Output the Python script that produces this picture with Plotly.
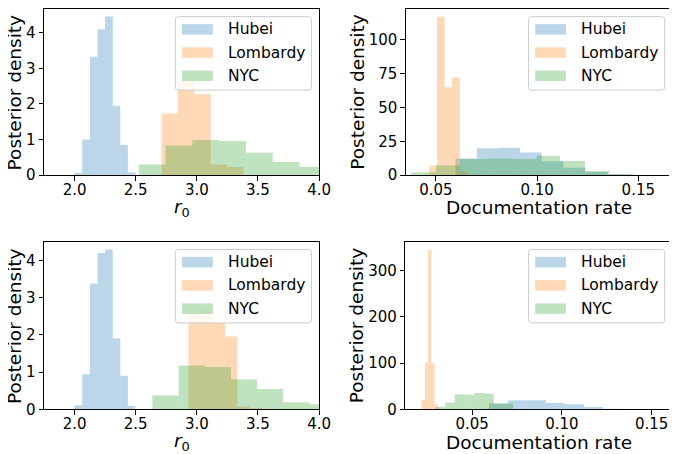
import plotly.graph_objects as go

W, H = 677, 454

regions = ["Hubei", "Lombardy", "NYC"]
colors = ["#1f77b4", "#ff7f0e", "#2ca02c"]

# top-left: r0, first fit
r0_a_hubei_edges = [2.000, 2.062, 2.125, 2.187, 2.249, 2.312, 2.374, 2.436, 2.498]
r0_a_hubei_dens = [0.07, 1.00, 3.33, 4.10, 4.46, 1.95, 0.85, 0.08]
r0_a_lomb_edges = [2.712, 2.846, 2.980, 3.114, 3.248, 3.382]
r0_a_lomb_dens = [1.73, 2.65, 2.27, 0.30, 0.23]
r0_a_nyc_edges = [2.525, 2.744, 2.963, 3.183, 3.402, 3.621, 3.841, 4.060]
r0_a_nyc_dens = [0.30, 0.83, 0.99, 0.96, 0.63, 0.37, 0.23]

# top-right: documentation rate, first fit
doc_a_hubei_edges = [0.0596, 0.0702, 0.0808, 0.0916, 0.1022, 0.1129, 0.1237, 0.1348, 0.1455]
doc_a_hubei_dens = [12.2, 19.8, 20.3, 16.8, 10.3, 5.5, 2.3, 0.5]
doc_a_lomb_edges = [0.0467, 0.0505, 0.0543, 0.0580, 0.0618, 0.0656]
doc_a_lomb_dens = [7.2, 117.0, 65.0, 72.0, 3.0]
doc_a_nyc_edges = [0.0377, 0.0500, 0.0619, 0.0748, 0.0873, 0.0997, 0.1113, 0.1237, 0.1356, 0.1480]
doc_a_nyc_dens = [2.1, 7.2, 11.9, 12.3, 11.9, 14.3, 10.4, 3.0, 0.8]

# bottom-left: r0, second fit
r0_b_hubei_edges = [2.000, 2.062, 2.125, 2.187, 2.249, 2.312, 2.374, 2.436, 2.498]
r0_b_hubei_dens = [0.11, 0.94, 3.38, 4.20, 4.29, 1.91, 0.90, 0.09]
r0_b_lomb_edges = [2.931, 3.031, 3.132, 3.232, 3.332, 3.432, 3.533]
r0_b_lomb_dens = [2.60, 2.65, 2.32, 1.96, 0.07, 0.04]
r0_b_nyc_edges = [2.636, 2.851, 3.065, 3.279, 3.493, 3.707, 3.921, 4.135]
r0_b_nyc_dens = [0.37, 1.18, 1.14, 0.81, 0.55, 0.19, 0.14]

# bottom-right: documentation rate, second fit
doc_b_hubei_edges = [0.0594, 0.0699, 0.0805, 0.0911, 0.1016, 0.1122, 0.1228, 0.1333]
doc_b_hubei_dens = [12.5, 19.8, 19.8, 13.8, 11.3, 5.3, 1.4]
doc_b_lomb_edges = [0.02183, 0.02373, 0.02551, 0.02730, 0.02909, 0.03088]
doc_b_lomb_dens = [20.0, 101.0, 344.0, 99.0, 11.0]
doc_b_nyc_edges = [0.0297, 0.0350, 0.0404, 0.0458, 0.0512, 0.0567, 0.0621, 0.0675, 0.0729]
doc_b_nyc_dens = [5.6, 14.8, 32.5, 31.8, 35.3, 33.9, 12.7, 12.7]

r0_ticks = [2.0, 2.5, 3.0, 3.5, 4.0]
doc_ticks = [0.05, 0.10, 0.15]

FONT = "DejaVu Sans"


def rgba(hex_color, a):
    h = hex_color.lstrip("#")
    return "rgba(%d,%d,%d,%g)" % (int(h[0:2], 16), int(h[2:4], 16), int(h[4:6], 16), a)


def px_x(v):
    return v / W


def px_y(v):
    return 1 - v / H


# panel boxes in pixels: left, top, right, bottom
panels = [
    dict(box=(36.7, 1.0, 316.7, 170.5), xr=[1.75, 4.0], yr=[0, 4.67], xt=r0_ticks, xf=".1f",
         yt=[0, 1, 2, 3, 4], xlabel="<i>r</i><sub>0</sub>",
         series=[(r0_a_hubei_edges, r0_a_hubei_dens), (r0_a_lomb_edges, r0_a_lomb_dens),
                 (r0_a_nyc_edges, r0_a_nyc_dens)]),
    dict(box=(405.0, 1.0, 676.3, 170.5), xr=[0.0351, 0.1668], yr=[0, 122.8], xt=doc_ticks, xf=".2f",
         yt=[0, 25, 50, 75, 100], xlabel="Documentation rate",
         series=[(doc_a_hubei_edges, doc_a_hubei_dens), (doc_a_lomb_edges, doc_a_lomb_dens),
                 (doc_a_nyc_edges, doc_a_nyc_dens)]),
    dict(box=(36.7, 238.5, 316.7, 409.5), xr=[1.75, 4.0], yr=[0, 4.5], xt=r0_ticks, xf=".1f",
         yt=[0, 1, 2, 3, 4], xlabel="<i>r</i><sub>0</sub>",
         series=[(r0_b_hubei_edges, r0_b_hubei_dens), (r0_b_lomb_edges, r0_b_lomb_dens),
                 (r0_b_nyc_edges, r0_b_nyc_dens)]),
    dict(box=(404.5, 238.5, 676.3, 409.5), xr=[0.0128, 0.1615], yr=[0, 362], xt=doc_ticks, xf=".2f",
         yt=[0, 100, 200, 300], xlabel="Documentation rate",
         series=[(doc_b_hubei_edges, doc_b_hubei_dens), (doc_b_lomb_edges, doc_b_lomb_dens),
                 (doc_b_nyc_edges, doc_b_nyc_dens)]),
]

fig = go.Figure()
layout = {}
shapes = []
annotations = []
title_font = dict(family=FONT, size=18.5, color="black")

for k, p in enumerate(panels):
    n = "" if k == 0 else str(k + 1)
    L, T, R, B = p["box"]
    axis_common = dict(showline=True, mirror=True, linecolor="black", linewidth=1,
                       ticks="outside", ticklen=4.5, tickwidth=1, tickcolor="black",
                       showgrid=False, zeroline=False,
                       tickfont=dict(family=FONT, size=15, color="black"))
    layout["xaxis" + n] = dict(axis_common, domain=[px_x(L), px_x(R)], range=p["xr"],
                               anchor="y" + n, tickvals=p["xt"], tickformat=p["xf"],
                               ticklabelstandoff=-4)
    layout["yaxis" + n] = dict(axis_common, domain=[px_y(B), px_y(T)], range=p["yr"],
                               anchor="x" + n, tickvals=p["yt"])

    for (edges, dens), name, col in zip(p["series"], regions, colors):
        fig.add_trace(go.Bar(
            x=edges[:-1], y=dens, width=[b - a for a, b in zip(edges[:-1], edges[1:])],
            offset=0, name=name, showlegend=False,
            marker=dict(color=rgba(col, 0.3), line=dict(width=0)),
            xaxis="x" + n, yaxis="y" + n))

    # axis titles
    ylab_x = 6.5 if L < 100 else 355
    annotations.append(dict(text="Posterior density", xref="paper", yref="paper",
                            x=px_x(ylab_x), y=px_y((T + B) / 2), textangle=-90,
                            showarrow=False, xanchor="center", yanchor="middle",
                            font=title_font))
    annotations.append(dict(text=p["xlabel"], xref="paper", yref="paper",
                            x=px_x((L + R) / 2), y=px_y(B + 33.5), showarrow=False,
                            xanchor="center", yanchor="middle", font=title_font))

    # legend box, drawn like the matplotlib one
    bw, bh, pad, rad = 138.5, 75.0, 7.8, 3.0
    bR, bT = R - pad, T + pad
    bL, bB = bR - bw, bT + bh

    def pt(x, y):
        return "%.5f,%.5f" % (px_x(x), px_y(y))

    path = ("M" + pt(bL + rad, bT) + " L" + pt(bR - rad, bT) + " Q" + pt(bR, bT) + " " + pt(bR, bT + rad)
            + " L" + pt(bR, bB - rad) + " Q" + pt(bR, bB) + " " + pt(bR - rad, bB)
            + " L" + pt(bL + rad, bB) + " Q" + pt(bL, bB) + " " + pt(bL, bB - rad)
            + " L" + pt(bL, bT + rad) + " Q" + pt(bL, bT) + " " + pt(bL + rad, bT) + " Z")
    shapes.append(dict(type="path", path=path, xref="paper", yref="paper",
                       fillcolor="rgba(255,255,255,0.8)", line=dict(color="#cccccc", width=1)))
    for i, (name, col) in enumerate(zip(regions, colors)):
        cy = bT + 13.0 + 23.7 * i
        shapes.append(dict(type="rect", xref="paper", yref="paper",
                           x0=px_x(bL + 6.7), x1=px_x(bL + 38.1),
                           y0=px_y(cy + 5.35), y1=px_y(cy - 5.35),
                           fillcolor=rgba(col, 0.3), line=dict(width=0)))
        annotations.append(dict(text=name, xref="paper", yref="paper",
                                x=px_x(bL + 51.5), y=px_y(cy), showarrow=False,
                                xanchor="left", yanchor="middle",
                                font=dict(family=FONT, size=15.5, color="black")))

fig.update_layout(
    width=W, height=H, margin=dict(l=0, r=0, t=0, b=0),
    paper_bgcolor="white", plot_bgcolor="white",
    barmode="overlay", shapes=shapes, annotations=annotations,
    **layout)

fig.write_html("out.html")
